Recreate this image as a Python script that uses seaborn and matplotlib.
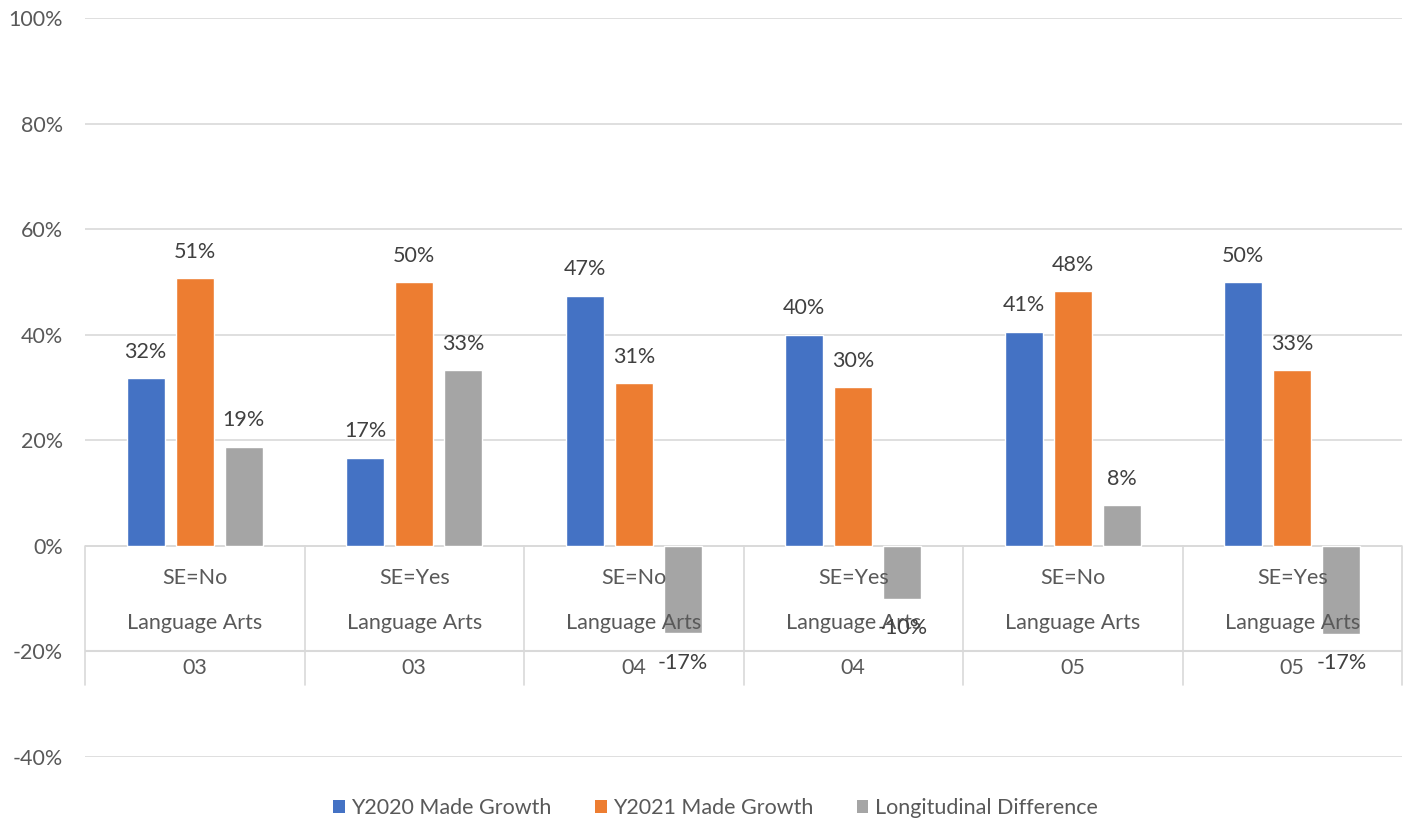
import matplotlib
matplotlib.use("Agg")
import matplotlib.pyplot as plt
import seaborn as sns
import pandas as pd
import numpy as np
from matplotlib.patches import Patch

# ---- data ----
se_labels = ["SE=No", "SE=Yes", "SE=No", "SE=Yes", "SE=No", "SE=Yes"]
subject_labels = ["Language Arts"] * 6
grade_labels = ["03", "03", "04", "04", "05", "05"]
series_names = ["Y2020 Made Growth", "Y2021 Made Growth", "Longitudinal Difference"]
y2020 = [0.318, 0.167, 0.474, 0.400, 0.406, 0.500]
y2021 = [0.507, 0.500, 0.308, 0.300, 0.482, 0.333]
diff = [0.188, 0.333, -0.166, -0.100, 0.077, -0.167]
colors = ["#4472C4", "#ED7D31", "#A5A5A5"]

rows = []
for s, vals in zip(series_names, [y2020, y2021, diff]):
    for i, v in enumerate(vals):
        rows.append({"cat": i, "series": s, "value": v})
df = pd.DataFrame(rows)

sns.set_theme(style="white")
plt.rcParams["font.family"] = ["Lato", "DejaVu Sans"]
FS = 15.5

fig = plt.figure(figsize=(14.11, 8.23), dpi=100)
ax = fig.add_axes([85 / 1411, 66 / 823, (1402 - 85) / 1411, (757 - 18) / 823])

sns.barplot(data=df, x="cat", y="value", hue="series", hue_order=series_names,
            palette=colors, order=list(range(6)), width=0.67, gap=0.22,
            saturation=1, errorbar=None, ax=ax, legend=False, zorder=3)

ax.set_ylim(-0.4, 1.0)
ax.set_xlim(-0.5, 5.5)
yt = np.arange(-0.4, 1.01, 0.2)
ax.set_yticks(yt)
ax.set_yticklabels([f"{round(v*100):d}%" for v in yt], fontsize=FS, color="#595959")
ax.tick_params(axis="y", length=0, pad=16)
ax.set_xticks([])
ax.set_xlabel("")
ax.set_ylabel("")
for sp in ax.spines.values():
    sp.set_visible(False)
ax.yaxis.grid(True, color="#D9D9D9", linewidth=1.2, zorder=0)
ax.set_axisbelow(True)

# data labels
for cont, vals in zip(ax.containers, [y2020, y2021, diff]):
    for patch, v in zip(cont.patches, vals):
        xc = patch.get_x() + patch.get_width() / 2
        off = 19 if v >= 0 else -21
        ax.annotate(f"{round(v*100):d}%", (xc, v), xytext=(0, off),
                    textcoords="offset points", ha="center", va="center",
                    fontsize=FS, color="#404040", zorder=5)

# multi-level category axis table
lc = "#D9D9D9"
n = len(se_labels)
for b in np.arange(-0.5, n, 1.0):
    ax.plot([b, b], [0, -0.263], color=lc, linewidth=1.2, zorder=1, clip_on=False)
ax.plot([-0.5, n - 0.5], [0, 0], color=lc, linewidth=1.2, zorder=1)
ax.plot([-0.5, n - 0.5], [-0.2, -0.2], color=lc, linewidth=1.5, zorder=1)
for i in range(n):
    ax.text(i, -0.061, se_labels[i], ha="center", va="center", fontsize=FS, color="#595959", zorder=4)
    ax.text(i, -0.146, subject_labels[i], ha="center", va="center", fontsize=FS, color="#595959", zorder=4)
    ax.text(i, -0.231, grade_labels[i], ha="center", va="center", fontsize=FS, color="#595959", zorder=4)

handles = [Patch(facecolor=c, edgecolor="none") for c in colors]
fig.legend(handles, series_names, loc="center", bbox_to_anchor=(0.507, 0.018),
           ncol=3, frameon=False, fontsize=FS, labelcolor="#595959",
           handlelength=0.55, handleheight=0.55, handletextpad=0.3, columnspacing=2.0)

fig.savefig("out.png", dpi=100)
